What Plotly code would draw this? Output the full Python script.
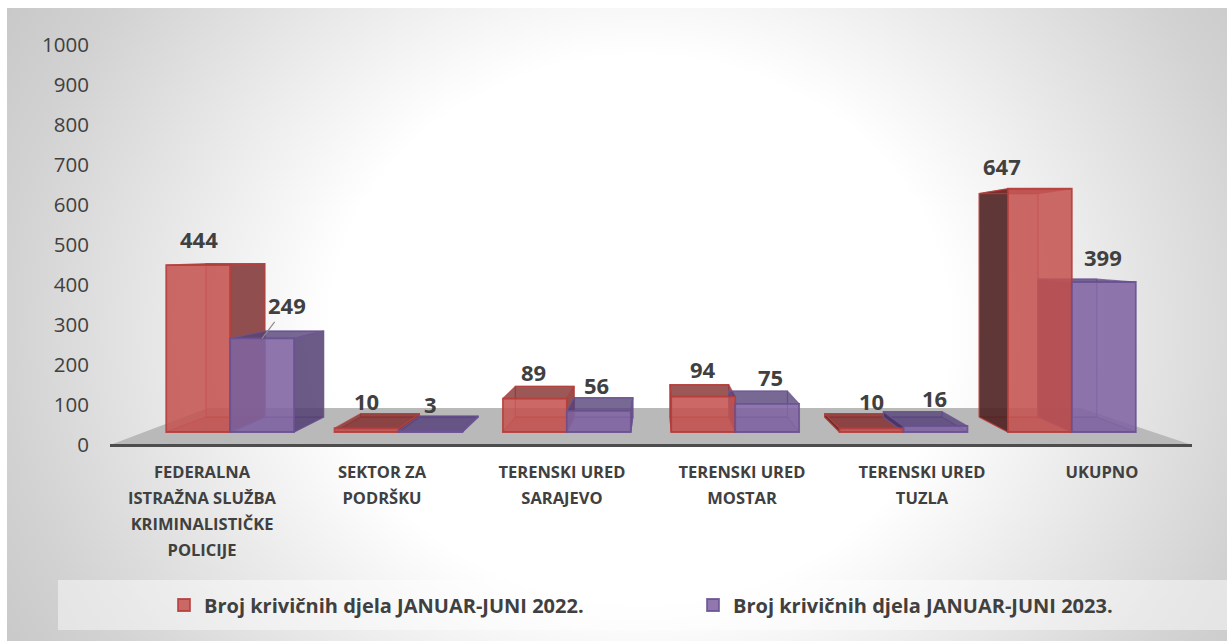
import base64
import plotly.graph_objects as go

categories = ["FEDERALNA<br>ISTRAŽNA SLUŽBA<br>KRIMINALISTIČKE<br>POLICIJE", "SEKTOR ZA<br>PODRŠKU",
              "TERENSKI URED<br>SARAJEVO", "TERENSKI URED<br>MOSTAR", "TERENSKI URED<br>TUZLA", "UKUPNO"]
series_2022_name = "Broj krivičnih djela JANUAR-JUNI 2022."
series_2023_name = "Broj krivičnih djela JANUAR-JUNI 2023."
values_2022 = [444, 10, 89, 94, 10, 647]
values_2023 = [249, 3, 56, 75, 16, 399]
axis_ticks = [0, 100, 200, 300, 400, 500, 600, 700, 800, 900, 1000]

W, H = 1227, 641
FONT = "Open Sans"
TXT = "#404040"


def px(a):
    return a / W


def py(a):
    return 1 - a / H


# perspective of the 3-D bars, expressed in the units of the hidden bar axes
VX, VY, K = 2.53, 489.0, 0.9186
BAR_W = 0.38


def bx(x):
    return VX + (x - VX) * K


def by(y):
    return VY + (y - VY) * K


def join(polys):
    xs, ys = [], []
    for p in polys:
        xs += [q[0] for q in p] + [p[0][0], None]
        ys += [q[1] for q in p] + [p[0][1], None]
    return xs, ys


def faces(values, start):
    f = dict(back=[], bottom=[], top=[], right=[], left=[])
    for i, v in enumerate(values):
        x0, x1 = i + start, i + start + BAR_W
        f["back"].append([(bx(x0), by(0)), (bx(x1), by(0)), (bx(x1), by(v)), (bx(x0), by(v))])
        f["bottom"].append([(x0, 0), (x1, 0), (bx(x1), by(0)), (bx(x0), by(0))])
        f["top"].append([(x0, v), (x1, v), (bx(x1), by(v)), (bx(x0), by(v))])
        if x1 < VX:
            f["right"].append([(x1, 0), (x1, v), (bx(x1), by(v)), (bx(x1), by(0))])
        if x0 > VX:
            f["left"].append([(x0, 0), (x0, v), (bx(x0), by(v)), (bx(x0), by(0))])
    return f


fig = go.Figure()
# invisible carrier for the visible category and value axes
fig.add_trace(go.Scatter(x=categories, y=[0] * len(categories), mode="none", showlegend=False,
                         hoverinfo="skip", xaxis="x", yaxis="y"))

styles = [
    (values_2022, -BAR_W, "rgba(185,65,62,0.75)", dict(back="rgba(192,80,77,0.10)", bottom="rgba(160,50,50,0.30)",
                                                       top="rgba(130,45,45,0.78)", right="rgba(125,45,45,0.82)",
                                                       left="rgba(80,35,35,0.90)")),
    (values_2023, 0, "rgba(110,85,150,0.75)", dict(back="rgba(128,100,162,0.10)", bottom="rgba(100,75,140,0.30)",
                                                   top="rgba(85,65,120,0.78)", right="rgba(85,65,115,0.85)",
                                                   left="rgba(70,50,100,0.90)")),
]
for values, start, edge, cols in styles:
    f = faces(values, start)
    for name in ["back", "bottom", "left", "right", "top"]:
        if not f[name]:
            continue
        xs, ys = join(f[name])
        fig.add_trace(go.Scatter(x=xs, y=ys, mode="lines", fill="toself", fillcolor=cols[name],
                                 line=dict(color=edge, width=1.2), showlegend=False, hoverinfo="skip",
                                 xaxis="x2", yaxis="y2"))

idx = list(range(len(categories)))
fig.add_trace(go.Bar(x=idx, y=values_2022, name=series_2022_name, marker=dict(color="rgba(196,84,81,0.87)",
              line=dict(color="rgba(180,60,57,0.85)", width=1.8)), xaxis="x3", yaxis="y3"))
fig.add_trace(go.Bar(x=idx, y=values_2023, name=series_2023_name, marker=dict(color="rgba(128,100,162,0.87)",
              line=dict(color="rgba(105,80,145,0.85)", width=1.8)), xaxis="x3", yaxis="y3"))

# value labels
shift_2022 = [(1, 26), (0, 27), (-1, 27), (0, 28), (0, 27), (-38, 23)]
shift_2023 = [(0, 0), (0, 27), (-2, 26), (3, 27), (-1, 28), (-1, 25)]
LABEL = dict(family=FONT, size=22, color=TXT, weight="bold")
ann = []
for i, (v, s) in enumerate(zip(values_2022, shift_2022)):
    ann.append(dict(x=i - BAR_W / 2, y=v, xref="x3", yref="y3", text=str(v), showarrow=False,
                    xshift=s[0], yshift=s[1], font=LABEL))
for i, (v, s) in enumerate(zip(values_2023, shift_2023)):
    if i == 0:
        ann.append(dict(x=i + BAR_W / 2, y=v, xref="x3", yref="y3", text=str(v), showarrow=True, arrowhead=0,
                        arrowwidth=1.2, arrowcolor="#8c8c8c", ax=25, ay=-33, font=LABEL))
    else:
        ann.append(dict(x=i + BAR_W / 2, y=v, xref="x3", yref="y3", text=str(v), showarrow=False,
                        xshift=s[0], yshift=s[1], font=LABEL))

svg = f'''<svg xmlns="http://www.w3.org/2000/svg" width="{W}" height="{H}" viewBox="0 0 {W} {H}">
<defs><radialGradient id="g" gradientUnits="userSpaceOnUse" cx="0" cy="0" r="1"
 gradientTransform="translate(640 330) scale(860 760)">
<stop offset="0.36" stop-color="#ffffff"/><stop offset="0.74" stop-color="#d2d2d2"/><stop offset="0.95" stop-color="#c0c0c0"/>
</radialGradient></defs>
<rect x="7" y="8" width="{W}" height="{H}" fill="url(#g)"/></svg>'''
src = "data:image/svg+xml;base64," + base64.b64encode(svg.encode()).decode()

xdom2 = [px(146), px(1156)]
ydom = [py(445), py(45)]
y2_range = [-13 / 0.376, 387 / 0.376]
hidden = dict(visible=False, showgrid=False, zeroline=False, fixedrange=True, automargin=False)

fig.update_layout(
    width=W, height=H, autosize=False, margin=dict(l=0, r=0, t=0, b=0, autoexpand=False),
    paper_bgcolor="white", plot_bgcolor="rgba(0,0,0,0)",
    barmode="group", bargap=0.24, bargroupgap=0,
    font=dict(family=FONT, color=TXT),
    images=[dict(source=src, xref="paper", yref="paper", x=0, y=1, sizex=1, sizey=1,
                 sizing="stretch", layer="below", xanchor="left", yanchor="top")],
    shapes=[
        dict(type="rect", xref="paper", yref="paper", x0=px(58), x1=1, y0=py(630), y1=py(580),
             fillcolor="rgba(255,255,255,0.45)", line=dict(width=0), layer="below"),
        dict(type="path", xref="paper", yref="paper", layer="below", fillcolor="#b9b9b9", line=dict(width=0),
             path=f"M{px(110)},{py(445)} L{px(1192)},{py(445)} L{px(1081)},{py(408)} L{px(208)},{py(408)} Z"),
        dict(type="line", xref="paper", yref="paper", layer="below", x0=px(110), x1=px(1192), y0=py(445.5),
             y1=py(445.5), line=dict(color="#4d4d4d", width=3)),
    ],
    xaxis=dict(domain=[px(112), px(1192)], type="category", categoryorder="array", categoryarray=categories,
               range=[-0.5, 5.5], tickmode="array", tickvals=categories,
               ticktext=["<br>".join(f'<span style="font-size:16.5px">{t}</span>' for t in c.split("<br>"))
                         for c in categories],
               tickangle=0, tickfont=dict(family=FONT, size=20, color=TXT, weight="bold"),
               showgrid=False, zeroline=False, showline=False, ticks="", ticklabelstandoff=12, anchor="y",
               fixedrange=True, automargin=False),
    yaxis=dict(domain=ydom, range=[0, 1000], tickmode="array", tickvals=axis_ticks, showgrid=False, zeroline=False,
               showline=False, ticks="", tickfont=dict(family=FONT, size=20.5, color=TXT), ticklabelstandoff=22,
               anchor="x", fixedrange=True, automargin=False),
    xaxis2=dict(domain=xdom2, range=[-0.5, 5.5], anchor="y2", **hidden),
    yaxis2=dict(domain=ydom, range=y2_range, anchor="x2", **hidden),
    xaxis3=dict(domain=xdom2, range=[-0.5, 5.5], anchor="y3", overlaying="x2", **hidden),
    yaxis3=dict(domain=ydom, range=y2_range, anchor="x3", overlaying="y2", **hidden),
    legend=dict(orientation="h", x=px(164), y=py(605), xanchor="left", yanchor="middle", entrywidth=484,
                entrywidthmode="pixels", bgcolor="rgba(0,0,0,0)",
                font=dict(family=FONT, size=20, color=TXT, weight="bold"), traceorder="normal"),
    annotations=ann,
)
fig.write_html("out.html", config=dict(displayModeBar=False),
               post_script="document.body.style.margin='0';document.body.style.overflow='hidden';")
